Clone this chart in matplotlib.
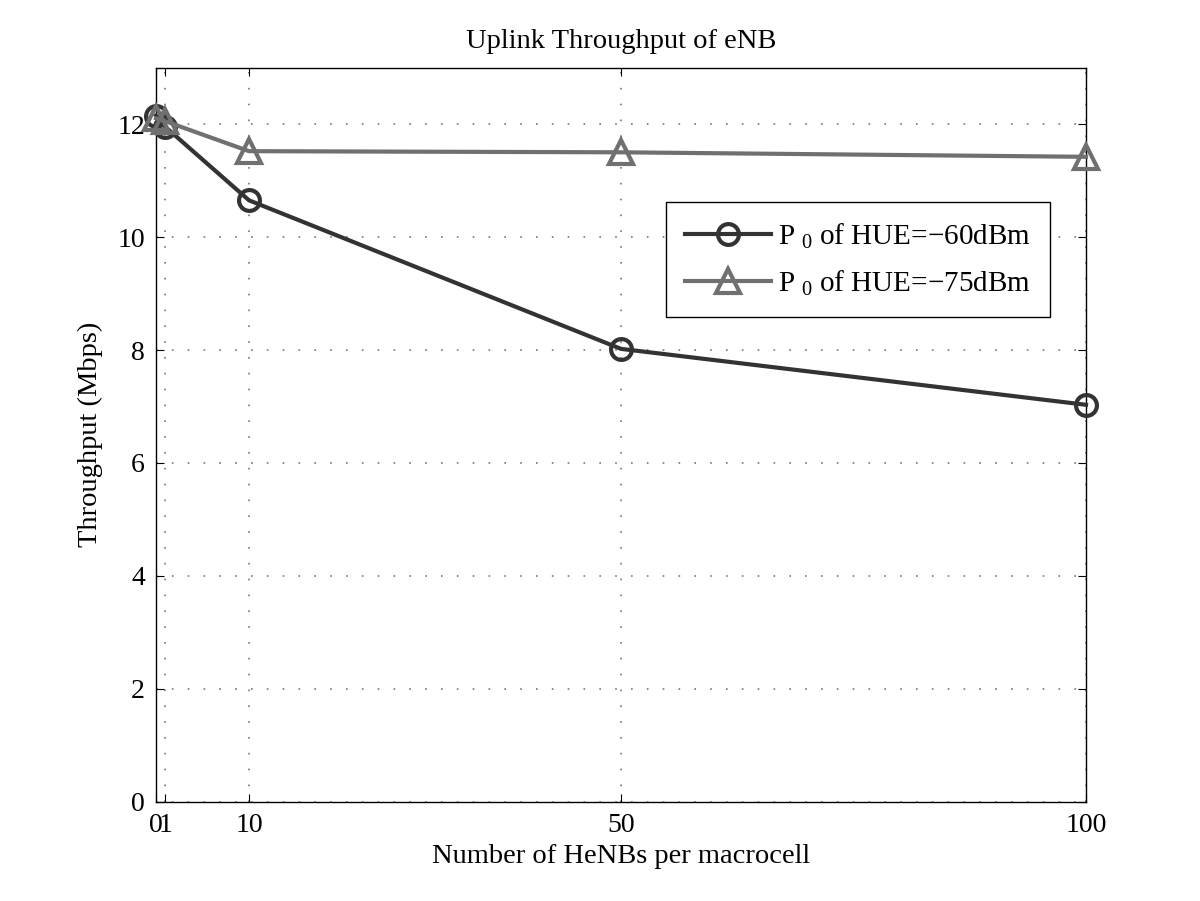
import numpy as np
import matplotlib
matplotlib.use("Agg")
import matplotlib.pyplot as plt

plt.rcParams['font.family'] = ['Liberation Serif', 'DejaVu Serif']
plt.rcParams['mathtext.fontset'] = 'custom'
plt.rcParams['mathtext.rm'] = 'Liberation Serif'

henbs = [0, 1, 10, 50, 100]
thr_60 = [12.15, 11.95, 10.65, 8.02, 7.03]
thr_75 = [12.1, 12.05, 11.52, 11.5, 11.42]
xticks = [0, 1, 10, 50, 100]
xticklabels = ['0', '1', '10', '50', '100']
yticks = [0, 2, 4, 6, 8, 10, 12]

fig = plt.figure(figsize=(12, 9.01), dpi=100)
ax = fig.add_axes([0.13, 0.11, 0.775, 0.815])

ax.plot(henbs, thr_60, color='#333333', lw=3, marker='o', ms=15, mfc='none',
        mec='#333333', mew=3, clip_on=False, zorder=3,
        label=r'P$_{\ 0}$ of HUE=$-$60dBm')
ax.plot(henbs, thr_75, color='#707070', lw=3, marker='^', ms=17, mfc='none',
        mec='#707070', mew=3, clip_on=False, zorder=3,
        label=r'P$_{\ 0}$ of HUE=$-$75dBm')

ax.set_xlim(0, 100)
ax.set_ylim(0, 13)
ax.set_xticks(xticks)
ax.set_xticklabels(xticklabels)
ax.set_yticks(yticks)
ax.tick_params(direction='in', top=True, right=True, labelsize=20, length=6, pad=8)
ax.grid(True, linestyle=(0, (1, 8.5)), color='#777777', lw=1.2)
for s in ax.spines.values():
    s.set_linewidth(1)

ax.set_xlabel('Number of HeNBs per macrocell', fontsize=20.5, labelpad=4)
ax.set_ylabel('Throughput (Mbps)', fontsize=20.5, labelpad=10)
ax.set_title('Uplink Throughput of eNB', fontsize=20.5, pad=14)

leg = ax.legend(loc='upper right', bbox_to_anchor=(0.9615, 0.817), fontsize=21,
                fancybox=False, edgecolor='black', framealpha=1,
                handlelength=2.95, handletextpad=0.25, borderpad=0.65,
                borderaxespad=0, labelspacing=0.6)
leg.get_frame().set_linewidth(1)

fig.savefig('out.png', dpi=100)
